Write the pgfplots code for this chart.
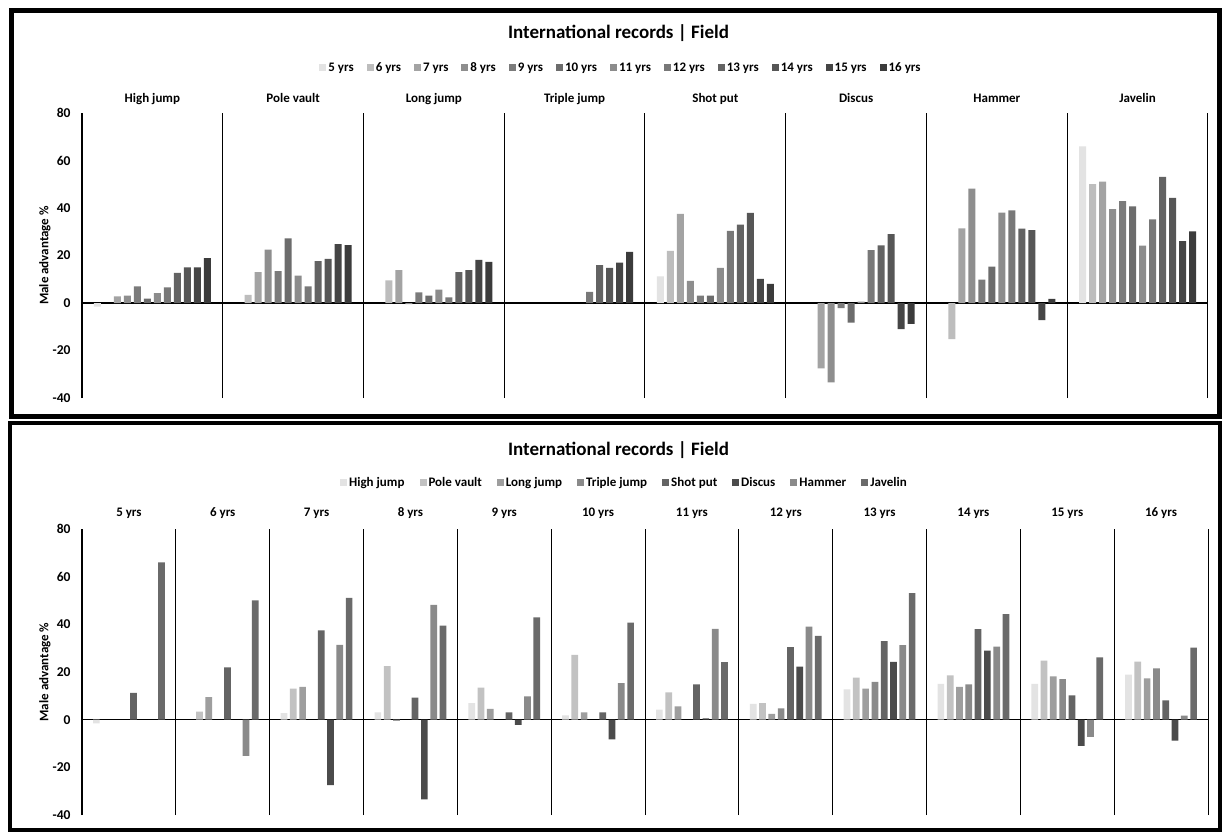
\documentclass[border=0pt]{standalone}
\usepackage{fontspec}
\setmainfont{Carlito}
\usepackage{pgfplots}
\usepackage{pgfplotstable}
\pgfplotsset{compat=1.18}

\definecolor{c5}{HTML}{E3E3E3}
\definecolor{c6}{HTML}{BDBDBD}
\definecolor{c7}{HTML}{A3A3A3}
\definecolor{c8}{HTML}{8E8E8E}
\definecolor{c9}{HTML}{7B7B7B}
\definecolor{c10}{HTML}{6C6C6C}
\definecolor{c11}{HTML}{8C8C8C}
\definecolor{c12}{HTML}{787878}
\definecolor{c13}{HTML}{636363}
\definecolor{c14}{HTML}{565656}
\definecolor{c15}{HTML}{454545}
\definecolor{c16}{HTML}{3B3B3B}
\definecolor{chj}{HTML}{E3E3E3}
\definecolor{cpv}{HTML}{C2C2C2}
\definecolor{clj}{HTML}{9E9E9E}
\definecolor{ctj}{HTML}{8A8A8A}
\definecolor{csp}{HTML}{646464}
\definecolor{cdi}{HTML}{4B4B4B}
\definecolor{cha}{HTML}{8A8A8A}
\definecolor{cja}{HTML}{6A6A6A}

\pgfplotstableread{
x    a5   a6    a7    a8    a9    a10   a11   a12   a13   a14   a15   a16
0.5  -1.5 nan   2.8   3.1   7     1.8   4.2   6.6   12.7  15    15    18.9
1.5  nan  3.4   13    22.5  13.4  27.2  11.5  7     17.6  18.6  24.8  24.4
2.5  nan  9.5   13.8  -0.5  4.5   3.1   5.6   2.4   13    13.8  18.2  17.3
3.5  nan  nan   nan   nan   nan   nan   nan   4.7   15.9  14.8  17    21.5
4.5  11.2 22    37.5  9.3   3.1   3.1   14.8  30.4  33    38    10.2  8.1
5.5  nan  nan   -27.5 -33.4 -2.2  -8.3  0.6   22.3  24.3  29    -11   -8.8
6.5  nan  -15.2 31.4  48.2  9.8   15.3  38.1  39    31.3  30.7  -7.2  1.7
7.5  66   50.1  51.1  39.5  42.9  40.7  24.2  35.2  53.1  44.3  26.1  30.2
}\topdata

\pgfplotstableread{
x     hj    pv    lj    tj    sp    di    ha    ja
0.5   -1.5  nan   nan   nan   11.2  nan   nan   66
1.5   nan   3.4   9.5   nan   22    nan   -15.2 50.1
2.5   2.8   13    13.8  nan   37.5  -27.5 31.4  51.1
3.5   3.1   22.5  -0.5  nan   9.3   -33.4 48.2  39.5
4.5   7     13.4  4.5   nan   3.1   -2.2  9.8   42.9
5.5   1.8   27.2  3.1   nan   3.1   -8.3  15.3  40.7
6.5   4.2   11.5  5.6   nan   14.8  0.6   38.1  24.2
7.5   6.6   7     2.4   4.7   30.4  22.3  39    35.2
8.5   12.7  17.6  13    15.9  33    24.3  31.3  53.1
9.5   15    18.6  13.8  14.8  38    29    30.7  44.3
10.5  15    24.8  18.2  17    10.2  -11   -7.2  26.1
11.5  18.9  24.4  17.3  21.5  8.1   -8.8  1.7   30.2
}\botdata

\pgfplotsset{
  panel/.style={
    scale only axis, width=1126pt,
    xmin=0, ymin=-40, ymax=80, enlargelimits=false,
    axis y line=left, axis x line=middle,
    axis line style={-, black, line width=1.2pt},
    hide obscured x ticks=false, hide obscured y ticks=false,
    ytick={-40,-20,0,20,40,60,80},
    major tick length=0pt,
    xticklabels={},
    xmajorgrids, major x grid style={black, line width=1pt},
    yticklabel style={font=\bfseries\fontsize{13.5}{14}\selectfont, xshift=-8pt},
    /pgf/number format/assume math mode=true,
    ylabel={Male advantage \%},
    ylabel style={font=\bfseries\fontsize{13}{14}\selectfont, at={(axis description cs:0,0.5)}, anchor=center, yshift=37pt},
    every axis plot/.append style={draw=none},
    legend style={draw=none, fill=none, font=\bfseries\fontsize{13}{14}\selectfont, anchor=center, inner sep=0pt},
    clip=false,
  },
  sqlegend/.style={legend image code/.code={\fill[##1] (0pt,-3.5pt) rectangle (7pt,3.5pt);}},
}
\tikzset{glab/.style={font=\bfseries\fontsize{13}{14}\selectfont, anchor=base}}

\begin{document}
\begin{tikzpicture}[x=1pt,y=1pt]
\path[use as bounding box] (0pt,0pt) rectangle (1226pt,-831pt);
\fill[white] (0pt,0pt) rectangle (1226pt,-831pt);
\draw[line width=5pt] (11pt,-10pt) rectangle (1219pt,-416pt);
\draw[line width=4pt] (10pt,-423pt) rectangle (1220pt,-830pt);

\node[font=\bfseries\fontsize{19}{20}\selectfont] at (618.5pt,-33pt) {International records | Field};
\node[font=\bfseries\fontsize{19}{20}\selectfont] at (618.5pt,-450pt) {International records | Field};

% ---------- top panel ----------
\begin{axis}[panel, at={(82pt,-398pt)}, anchor=south west, height=285pt,
  xmax=8, xtick={1,2,3,4,5,6,7,8},
  ybar=2.8pt, bar width=7.2pt, sqlegend,
  legend columns=12, legend style={at={(0.4787,1.158)}, /tikz/every even column/.append style={column sep=11pt}}]
\addplot[fill=c5]  table[x=x,y=a5]  {\topdata};
\addplot[fill=c6]  table[x=x,y=a6]  {\topdata};
\addplot[fill=c7]  table[x=x,y=a7]  {\topdata};
\addplot[fill=c8]  table[x=x,y=a8]  {\topdata};
\addplot[fill=c9]  table[x=x,y=a9]  {\topdata};
\addplot[fill=c10] table[x=x,y=a10] {\topdata};
\addplot[fill=c11] table[x=x,y=a11] {\topdata};
\addplot[fill=c12] table[x=x,y=a12] {\topdata};
\addplot[fill=c13] table[x=x,y=a13] {\topdata};
\addplot[fill=c14] table[x=x,y=a14] {\topdata};
\addplot[fill=c15] table[x=x,y=a15] {\topdata};
\addplot[fill=c16] table[x=x,y=a16] {\topdata};
\legend{5 yrs,6 yrs,7 yrs,8 yrs,9 yrs,10 yrs,11 yrs,12 yrs,13 yrs,14 yrs,15 yrs,16 yrs}
\node[glab] at (axis cs:0.5,80) [yshift=11pt] {High jump};
\node[glab] at (axis cs:1.5,80) [yshift=11pt] {Pole vault};
\node[glab] at (axis cs:2.5,80) [yshift=11pt] {Long jump};
\node[glab] at (axis cs:3.5,80) [yshift=11pt] {Triple jump};
\node[glab] at (axis cs:4.5,80) [yshift=11pt] {Shot put};
\node[glab] at (axis cs:5.5,80) [yshift=11pt] {Discus};
\node[glab] at (axis cs:6.5,80) [yshift=11pt] {Hammer};
\node[glab] at (axis cs:7.5,80) [yshift=11pt] {Javelin};
\end{axis}

% ---------- bottom panel ----------
\begin{axis}[panel, at={(82pt,-815pt)}, anchor=south west, height=286pt,
  xmax=12, xtick={1,2,3,4,5,6,7,8,9,10,11,12},
  ybar=2.6pt, bar width=6.7pt, sqlegend,
  legend columns=8, legend style={at={(0.4818,1.161)}, /tikz/every even column/.append style={column sep=13pt}}]
\addplot[fill=chj] table[x=x,y=hj] {\botdata};
\addplot[fill=cpv] table[x=x,y=pv] {\botdata};
\addplot[fill=clj] table[x=x,y=lj] {\botdata};
\addplot[fill=ctj] table[x=x,y=tj] {\botdata};
\addplot[fill=csp] table[x=x,y=sp] {\botdata};
\addplot[fill=cdi] table[x=x,y=di] {\botdata};
\addplot[fill=cha] table[x=x,y=ha] {\botdata};
\addplot[fill=cja] table[x=x,y=ja] {\botdata};
\legend{High jump,Pole vault,Long jump,Triple jump,Shot put,Discus,Hammer,Javelin}
\node[glab] at (axis cs:0.5,80) [yshift=13pt] {5 yrs};
\node[glab] at (axis cs:1.5,80) [yshift=13pt] {6 yrs};
\node[glab] at (axis cs:2.5,80) [yshift=13pt] {7 yrs};
\node[glab] at (axis cs:3.5,80) [yshift=13pt] {8 yrs};
\node[glab] at (axis cs:4.5,80) [yshift=13pt] {9 yrs};
\node[glab] at (axis cs:5.5,80) [yshift=13pt] {10 yrs};
\node[glab] at (axis cs:6.5,80) [yshift=13pt] {11 yrs};
\node[glab] at (axis cs:7.5,80) [yshift=13pt] {12 yrs};
\node[glab] at (axis cs:8.5,80) [yshift=13pt] {13 yrs};
\node[glab] at (axis cs:9.5,80) [yshift=13pt] {14 yrs};
\node[glab] at (axis cs:10.5,80) [yshift=13pt] {15 yrs};
\node[glab] at (axis cs:11.5,80) [yshift=13pt] {16 yrs};
\end{axis}
\end{tikzpicture}
\end{document}
